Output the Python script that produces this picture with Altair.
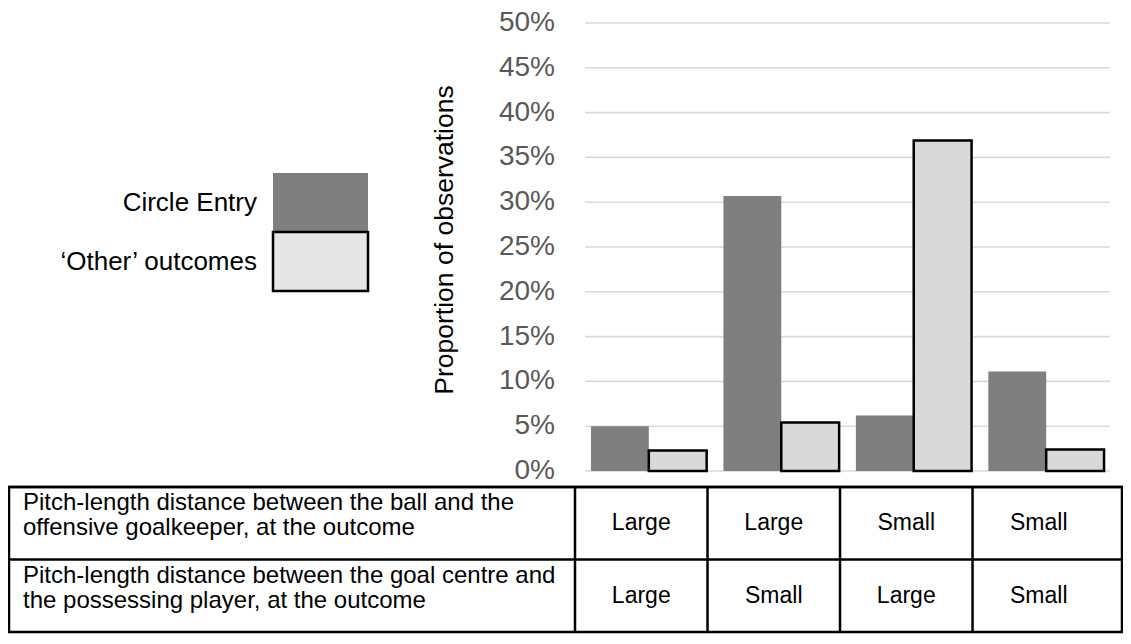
import altair as alt
import pandas as pd

# ---------------- data ----------------
series = ["Circle Entry", "\u2018Other\u2019 outcomes"]
ball_gk = ["Large", "Large", "Small", "Small"]
goal_player = ["Large", "Small", "Large", "Small"]
circle_entry = [0.050, 0.307, 0.062, 0.111]
other_outcomes = [0.023, 0.054, 0.369, 0.024]
y_ticks = [0.0, 0.05, 0.10, 0.15, 0.20, 0.25, 0.30, 0.35, 0.40, 0.45, 0.50]
row_labels = [
    "Pitch-length distance between the ball and the\noffensive goalkeeper, at the outcome",
    "Pitch-length distance between the goal centre and\nthe possessing player, at the outcome",
]
y_title = "Proportion of observations"

groups = [f"{a} / {b}" for a, b in zip(ball_gk, goal_player)]

bars_df = pd.DataFrame(
    [{"group": g, "series": series[0], "value": v} for g, v in zip(groups, circle_entry)]
    + [{"group": g, "series": series[1], "value": v} for g, v in zip(groups, other_outcomes)]
)
ticks_df = pd.DataFrame({"t": y_ticks})
legend_df = pd.DataFrame({"series": series})
table_df = pd.DataFrame(
    [{"row": row_labels[0], "col": g, "text": v} for g, v in zip(groups, ball_gk)]
    + [{"row": row_labels[1], "col": g, "text": v} for g, v in zip(groups, goal_player)]
)
rows_df = pd.DataFrame({"row": row_labels})
cols_df = pd.DataFrame({"col": groups})

FONT = "Liberation Sans"
DARK = "#7f7f7f"
LIGHT = "#d9d9d9"

# ---------------- scales ----------------
def yscale():
    return alt.Scale(domain=[0, 0.5], range=[463, 15], nice=False, zero=True)

def xbar():
    return alt.Scale(type="band", domain=groups, range=[577, 1102], paddingInner=0.1265, paddingOuter=0.045)

def table_x():
    return alt.Scale(type="band", domain=groups, range=[567, 1114], paddingInner=0, paddingOuter=0.064, align=0)

def table_y():
    return alt.Scale(type="band", domain=row_labels, range=[479, 624], paddingInner=0, paddingOuter=0)

def legend_y():
    return alt.Scale(type="band", domain=series, range=[165, 283], paddingInner=0, paddingOuter=0)

# ---------------- bar chart ----------------
grid = alt.Chart(ticks_df).mark_rule(color="#d9d9d9", strokeWidth=1.6).encode(
    y=alt.Y("t:Q", scale=yscale(), axis=None),
    x=alt.value(577),
    x2=alt.value(1102),
)

tick_labels = alt.Chart(ticks_df).mark_text(
    align="right", baseline="middle", font=FONT, fontSize=28, color="#595959"
).encode(
    y=alt.Y("t:Q", scale=yscale(), axis=None),
    x=alt.value(547),
    text=alt.Text("t:Q", format=".0%"),
)

title_df = pd.DataFrame({"title": [y_title]})
axis_title = alt.Chart(title_df).mark_text(
    align="center", baseline="middle", angle=270, font=FONT, fontSize=26.5, color="#000000"
).encode(
    x=alt.value(437),
    y=alt.value(232),
    text="title:N",
)

bars = alt.Chart(bars_df).mark_bar().encode(
    x=alt.X("group:N", scale=xbar(), axis=None, sort=groups),
    xOffset=alt.XOffset("series:N", scale=alt.Scale(domain=series, paddingInner=0, paddingOuter=0)),
    y=alt.Y("value:Q", scale=yscale(), axis=None),
    color=alt.Color("series:N", scale=alt.Scale(domain=series, range=[DARK, LIGHT]), legend=None),
    stroke=alt.Stroke("series:N", scale=alt.Scale(domain=series, range=[DARK, "#000000"]), legend=None),
    strokeWidth=alt.StrokeWidth("series:N", scale=alt.Scale(domain=series, range=[0, 2.5]), legend=None),
)

# ---------------- legend ----------------
legend_rects = alt.Chart(legend_df).mark_rect().encode(
    y=alt.Y("series:N", scale=legend_y(), axis=None),
    x=alt.value(265),
    x2=alt.value(360),
    color=alt.Color("series:N", scale=alt.Scale(domain=series, range=[DARK, "#e6e6e6"]), legend=None),
    stroke=alt.Stroke("series:N", scale=alt.Scale(domain=series, range=[DARK, "#000000"]), legend=None),
    strokeWidth=alt.StrokeWidth("series:N", scale=alt.Scale(domain=series, range=[0, 2.5]), legend=None),
)
legend_text = alt.Chart(legend_df).mark_text(
    align="right", baseline="middle", font=FONT, fontSize=26, color="#000000"
).encode(
    y=alt.Y("series:N", scale=legend_y(), axis=None, bandPosition=0.5),
    x=alt.value(249),
    text="series:N",
)

# ---------------- table ----------------
frame = alt.Chart(title_df).mark_rect(fill=None, stroke="#000000", strokeWidth=2.5).encode(
    x=alt.value(1), x2=alt.value(1114), y=alt.value(479), y2=alt.value(624)
)
h_lines = alt.Chart(rows_df).mark_rule(color="#000000", strokeWidth=2.5).encode(
    y=alt.Y("row:N", scale=table_y(), axis=None, bandPosition=0),
    x=alt.value(1),
    x2=alt.value(1114),
)
v_lines = alt.Chart(cols_df).mark_rule(color="#000000", strokeWidth=2.5).encode(
    x=alt.X("col:N", scale=table_x(), axis=None, bandPosition=0),
    y=alt.value(479),
    y2=alt.value(624),
)
cell_text = alt.Chart(table_df).mark_text(
    align="center", baseline="middle", font=FONT, fontSize=23, color="#000000"
).encode(
    x=alt.X("col:N", scale=table_x(), axis=None, bandPosition=0.5),
    y=alt.Y("row:N", scale=table_y(), axis=None, bandPosition=0.5),
    text="text:N",
)
row_text = alt.Chart(rows_df).mark_text(
    align="left", baseline="middle", font=FONT, fontSize=24, color="#000000",
    lineBreak="\n", lineHeight=25, dy=-20,
).encode(
    y=alt.Y("row:N", scale=table_y(), axis=None, bandPosition=0.5),
    x=alt.value(15),
    text="row:N",
)

chart = alt.layer(
    grid, bars, tick_labels, axis_title,
    legend_rects, legend_text,
    frame, h_lines, v_lines, cell_text, row_text,
).resolve_scale(
    x="independent", y="independent", color="independent",
    stroke="independent", strokeWidth="independent", xOffset="independent",
).properties(
    width=1115, height=628, autosize="none", padding=0
).configure_view(stroke=None)

chart.save("out.html", embed_options={"renderer": "svg", "actions": False})
